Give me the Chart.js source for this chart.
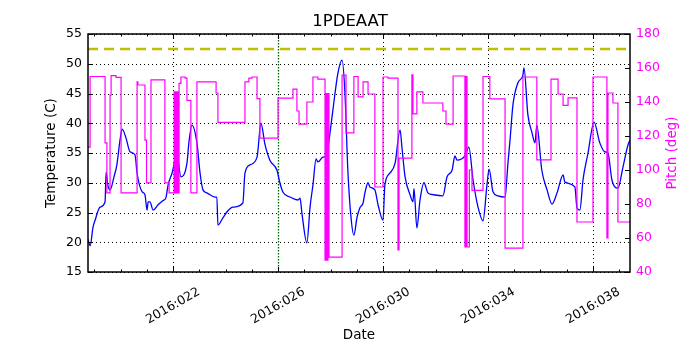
<!DOCTYPE html>
<html><head><meta charset="utf-8">
<script src="https://cdn.jsdelivr.net/npm/chart.js@4"></script>
<style>html,body{margin:0;padding:0;background:#fff}#wrap{width:700px;height:350px}</style>
</head><body><div id="wrap"><canvas id="c" width="700" height="350"></canvas></div>
<script>
// ---- data (day of year 2016) ----
const tempDays = [18.76,18.84,18.95,19.03,19.22,19.41,19.45,19.52,19.60,19.75,
19.86,19.98,20.06,20.21,20.36,20.55,20.63,20.82,20.93,21.01,
21.05,21.12,21.24,21.43,21.62,21.73,21.81,21.96,22.15,22.30,
22.53,22.61,22.72,22.91,23.03,23.14,23.29,23.60,23.67,23.71,
23.90,24.09,24.28,24.66,24.74,24.93,25.20,25.35,25.50,25.69,
25.96,26.07,26.19,26.46,26.76,26.84,26.91,27.10,27.22,27.33,
27.45,27.52,27.71,27.86,27.94,28.09,28.28,28.44,28.55,28.66,
28.78,28.89,29.01,29.12,29.24,29.31,29.43,29.50,29.69,29.81,
30.00,30.07,30.26,30.46,30.65,30.72,30.84,31.03,31.14,31.18,
31.29,31.41,31.56,31.71,31.90,32.28,32.44,32.63,32.74,32.82,
33.12,33.27,33.43,33.62,33.81,33.96,34.04,34.19,34.38,34.65,
34.76,34.84,34.95,35.14,35.33,35.37,35.52,35.67,35.79,35.86,
36.05,36.25,36.44,36.63,36.86,36.93,37.31,37.39,37.50,37.62,
37.81,38.04,38.26,38.45,38.57,38.72,38.95,39.14,39.33,39.41];
const tempValues = [20.5,19.4,22.5,23.7,25.9,26.8,31.8,29.5,28.8,31,
33,37.2,39,37.5,35.2,34.7,31.6,28.5,28,25.4,
26.8,26.8,25.4,26.3,27,27.5,29.6,31.6,34.7,31,
33.3,37,39.7,36.7,31.6,28.8,28.3,27.6,27.6,22.9,
24.1,25.3,25.9,26.6,31.6,33,34.3,40,36.5,33.8,
32.1,30,28.4,27.6,27.1,27.4,24.9,19.9,25.9,29.6,
34,33.5,34.3,34.5,37,42.2,48.4,50.6,45,32.1,
24.2,21.2,24.2,25.8,26.6,28.3,30,29.3,28.8,26.3,
23.7,29.6,31.6,33.3,38.9,36,31,28,26.8,29,
22.4,27.1,30,28.3,28,27.8,31,32.1,34.5,33.8,
34.5,36,30.5,25.9,23.6,29.6,32.3,28.5,27.8,27.6,
33.3,37.2,43.1,46.8,48.1,49.3,41.4,38.5,36.7,39.7,
32.1,28.8,26.4,28.3,31.3,30.1,29.3,25.8,25.4,30.5,
35,40.2,36.7,35.2,35,30.5,29.1,32.6,36.3,37.2];

const pitchDays = [18.76,18.84,19.41,19.48,19.60,19.64,19.83,20.02,20.63,20.66,
20.93,20.99,21.16,21.69,21.85,22.04,22.07,22.11,22.15,22.19,
22.21,22.23,22.30,22.46,22.53,22.68,22.91,23.64,23.71,24.74,
24.89,25.01,25.20,25.31,26.00,26.57,26.72,26.80,27.10,27.33,
27.52,27.79,27.83,27.86,27.90,27.94,28.44,28.59,28.89,29.05,
29.24,29.43,29.69,30.00,30.19,30.57,30.61,31.10,31.14,31.29,
31.52,32.28,32.40,32.67,33.12,33.16,33.20,33.29,33.39,33.81,
34.07,34.65,35.33,35.86,36.40,36.67,36.86,37.05,37.39,38.00,
38.53,38.57,38.76,38.95,39.41];
const pitchValues = [113.5,155,116,86.5,144,155.5,154.5,86.5,151.8,150,
117.6,92.4,153,92.4,86.5,146,86.5,146,86.5,146,
86.5,151,154.7,154,141,86.5,151.8,145.3,128,151.8,
154,154.7,142,118.8,142.3,147.6,134.7,127,140,154.7,
153.5,47,145,47,145,48.8,155.8,121.8,155,143,
151.8,144.7,90,154.7,154,53,107,156,133,146,
139.4,134.7,127,155.3,54.7,155,54.7,100,88,155,
141.8,54,154.7,106,153.5,144.7,138,142.4,69.4,154.7,
60,145.3,139.4,69.4,69.4];

const limitTemp = 52.5;
const xRange = [18.76, 39.41];
const xTickValues = [22, 26, 30, 34, 38];
const xTickLabels = ['2016:022', '2016:026', '2016:030', '2016:034', '2016:038'];
const eventDay = 26;
const pitchTitle = 'Pitch (deg)';

Chart.defaults.font.family = '"DejaVu Sans", sans-serif';
Chart.defaults.color = '#000';

const framePlugin = {
  id: 'frame',
  beforeDatasetsDraw(chart) {
    const {ctx, chartArea: a, scales} = chart;
    ctx.save();
    ctx.lineWidth = 1;
    ctx.strokeStyle = '#000';
    ctx.setLineDash([1, 3]);
    scales.y.ticks.forEach(t => {
      const y = Math.round(scales.y.getPixelForValue(t.value)) + 0.5;
      ctx.beginPath(); ctx.moveTo(a.left, y); ctx.lineTo(a.right, y); ctx.stroke();
    });
    xTickValues.forEach(v => {
      const x = Math.round(scales.x.getPixelForValue(v)) + 0.5;
      if (v === eventDay) { ctx.strokeStyle = '#006400'; ctx.setLineDash([1.5, 1.5]); ctx.lineWidth = 1.3; }
      else { ctx.strokeStyle = '#000'; ctx.setLineDash([1, 3]); ctx.lineWidth = 1; }
      ctx.beginPath(); ctx.moveTo(x, a.top); ctx.lineTo(x, a.bottom); ctx.stroke();
    });
    ctx.restore();
  },
  afterDatasetsDraw(chart) {
    const {ctx, chartArea: a, scales} = chart;
    ctx.save();
    ctx.setLineDash([]);
    ctx.strokeStyle = '#000';
    ctx.lineWidth = 1;
    for (let d = Math.ceil(xRange[0]); d <= Math.floor(xRange[1]); d++) {
      const x = Math.round(scales.x.getPixelForValue(d)) + 0.5;
      const len = xTickValues.includes(d) ? 5 : 2.5;
      ctx.beginPath();
      ctx.moveTo(x, a.bottom); ctx.lineTo(x, a.bottom - len);
      ctx.moveTo(x, a.top); ctx.lineTo(x, a.top + len);
      ctx.stroke();
    }
    scales.y.ticks.forEach(t => {
      const y = Math.round(scales.y.getPixelForValue(t.value)) + 0.5;
      ctx.beginPath(); ctx.moveTo(a.left, y); ctx.lineTo(a.left + 5, y); ctx.stroke();
    });
    scales.y2.ticks.forEach(t => {
      const y = Math.round(scales.y2.getPixelForValue(t.value)) + 0.5;
      ctx.beginPath(); ctx.moveTo(a.right, y); ctx.lineTo(a.right - 5, y); ctx.stroke();
    });
    ctx.lineWidth = 1.5;
    ctx.strokeRect(a.left, a.top, a.right - a.left, a.bottom - a.top);
    // rotated date labels
    ctx.fillStyle = '#000';
    ctx.font = '12.5px "DejaVu Sans", sans-serif';
    ctx.textAlign = 'center';
    ctx.textBaseline = 'middle';
    xTickValues.forEach((v, i) => {
      const x = scales.x.getPixelForValue(v);
      ctx.save();
      ctx.translate(x, a.bottom + 34);
      ctx.rotate(-Math.PI / 6);
      ctx.fillText(xTickLabels[i], 0, 0);
      ctx.restore();
    });
    // right axis title, reading bottom-to-top
    ctx.fillStyle = '#ff00ff';
    ctx.font = '13.5px "DejaVu Sans", sans-serif';
    ctx.save();
    ctx.translate(672, (a.top + a.bottom) / 2);
    ctx.rotate(-Math.PI / 2);
    ctx.fillText(pitchTitle, 0, 0);
    ctx.restore();
    ctx.restore();
  }
};

new Chart(document.getElementById('c'), {
  type: 'line',
  data: {
    datasets: [
      {
        label: 'Pitch',
        data: pitchDays.map((d, i) => ({x: d, y: pitchValues[i]})),
        yAxisID: 'y2',
        stepped: 'before',
        borderColor: '#ff00ff',
        borderWidth: 1.2,
        pointRadius: 0,
        fill: false
      },
      {
        label: 'Temperature',
        data: tempDays.map((d, i) => ({x: d, y: tempValues[i]})),
        yAxisID: 'y',
        borderColor: '#0000ff',
        borderWidth: 1.3,
        pointRadius: 0,
        cubicInterpolationMode: 'monotone',
        fill: false
      },
      {
        label: 'Limit',
        data: [{x: xRange[0], y: limitTemp}, {x: xRange[1], y: limitTemp}],
        yAxisID: 'y',
        borderColor: '#bfbf00',
        borderWidth: 2.5,
        borderDash: [10, 6],
        pointRadius: 0,
        fill: false
      }
    ]
  },
  options: {
    responsive: false,
    animation: false,
    devicePixelRatio: 1,
    layout: {padding: 0},
    plugins: {
      legend: {display: false},
      tooltip: {enabled: false},
      title: {
        display: true,
        text: '1PDEAAT',
        color: '#000',
        font: {size: 16.5, weight: 'normal'},
        padding: {top: 12, bottom: 2.2}
      }
    },
    scales: {
      x: {
        type: 'linear',
        min: xRange[0],
        max: xRange[1],
        ticks: {display: false},
        grid: {display: false, drawTicks: false},
        border: {display: false},
        title: {display: true, text: 'Date', color: '#000', font: {size: 13.5}, padding: {top: 0, bottom: 6}},
        afterFit: s => { s.height = 78; }
      },
      y: {
        position: 'left',
        min: 15, max: 55,
        ticks: {stepSize: 5, color: '#000', font: {size: 12.5}, padding: 6},
        grid: {display: false, drawTicks: false},
        border: {display: false},
        title: {display: true, text: 'Temperature (C)', color: '#000', font: {size: 13.5}, padding: {top: 43, bottom: 0}},
        afterFit: s => { s.width = 88; }
      },
      y2: {
        position: 'right',
        min: 40, max: 180,
        ticks: {stepSize: 20, color: '#ff00ff', font: {size: 12.5}, padding: 6},
        grid: {display: false, drawTicks: false},
        border: {display: false},
        title: {display: false},
        afterFit: s => { s.width = 70; }
      }
    }
  },
  plugins: [framePlugin]
});
</script>
</body></html>
